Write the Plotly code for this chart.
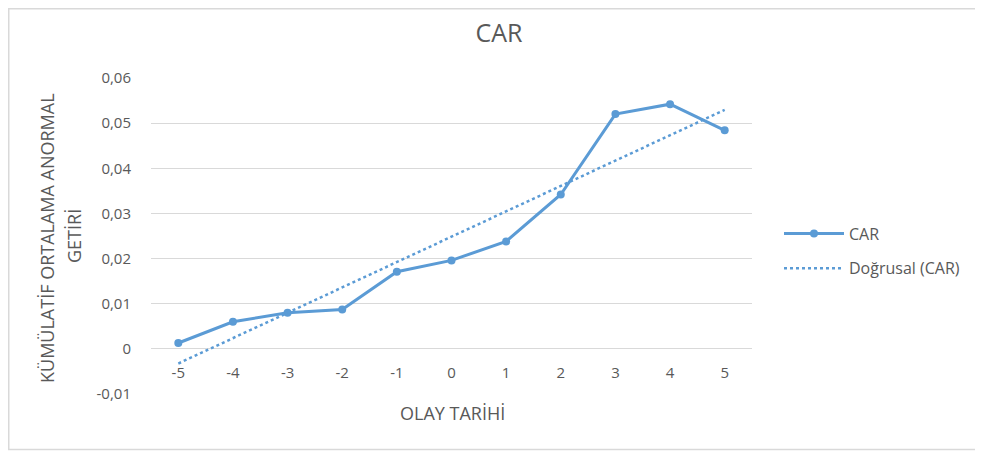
import numpy as np
import plotly.graph_objects as go

event_days = [-5, -4, -3, -2, -1, 0, 1, 2, 3, 4, 5]
car_values = [0.0013, 0.0060, 0.0080, 0.0087, 0.0171, 0.0196, 0.0238, 0.0342, 0.0520, 0.0542, 0.0484]
y_tick_vals = [-0.01, 0, 0.01, 0.02, 0.03, 0.04, 0.05, 0.06]
y_tick_text = ["-0,01", "0", "0,01", "0,02", "0,03", "0,04", "0,05", "0,06"]
y_title_lines = ["KÜMÜLATİF ORTALAMA ANORMAL", "GETİRİ"]

# linear trendline (Excel "Doğrusal") computed from the series
slope, intercept = np.polyfit(event_days, car_values, 1)
trend = [slope * x + intercept for x in event_days]

blue = "#5B9BD5"
gray = "#595959"
font = "Open Sans"

fig = go.Figure()
fig.add_trace(go.Scatter(
    x=event_days, y=car_values, mode="lines+markers", name="CAR",
    line=dict(color=blue, width=3), marker=dict(color=blue, size=8),
    legendgroup="a",
))
fig.add_trace(go.Scatter(
    x=event_days, y=trend, mode="lines", name="Doğrusal (CAR)",
    line=dict(color=blue, width=2.5, dash="dot"),
    legendgroup="b",
))

W, H = 983, 452
OFF = 8  # page body margin offset of the figure on screen
# plot area in screen pixels
SL, SR, ST, SB = 151, 752, 78, 394
L, T = SL - OFF, ST - OFF
R, B = W - (SR - OFF), H - (SB - OFF)
pw, ph = SR - SL, SB - ST

def px_x(x):
    return (x - SL) / pw

def px_y(y):
    return (SB - y) / ph

annotations = [
    dict(text="OLAY TARİHİ", xref="paper", yref="paper",
         x=px_x(452), y=px_y(413), xanchor="center", yanchor="middle",
         showarrow=False, font=dict(size=18, color=gray)),
]
for line_text, cx, cy in zip(y_title_lines, [47, 74], [238, 236]):
    annotations.append(dict(
        text=line_text, xref="paper", yref="paper",
        x=px_x(cx - OFF + 8), y=px_y(cy), xanchor="center", yanchor="middle",
        textangle=-90, showarrow=False, font=dict(size=18, color=gray)))

fig.update_layout(
    width=W, height=H,
    margin=dict(l=L, r=R, t=T, b=B, autoexpand=False),
    paper_bgcolor="white", plot_bgcolor="white",
    font=dict(family=font, color=gray, size=15),
    title=dict(text="CAR", x=(499 - OFF) / W, xanchor="center",
               y=1 - (33 - OFF) / H, yanchor="middle",
               font=dict(size=25, color=gray, family=font)),
    xaxis=dict(
        range=[-5.5, 5.5], tickvals=event_days, ticktext=[str(v) for v in event_days],
        showgrid=False, zeroline=False, showline=False, automargin=False,
        anchor="free", position=1 / 7, ticks="", ticklabelstandoff=13,
        tickfont=dict(size=15, color=gray),
    ),
    yaxis=dict(
        range=[-0.01, 0.06], tickvals=y_tick_vals, ticktext=y_tick_text,
        showgrid=True, gridcolor="#D9D9D9", gridwidth=1, automargin=False,
        zeroline=False, showline=False, ticks="", ticklabelstandoff=19,
        tickfont=dict(size=15, color=gray),
    ),
    legend=dict(
        x=px_x(779), xanchor="left", y=px_y(251), yanchor="middle",
        font=dict(size=16, color=gray), tracegroupgap=11, itemwidth=60,
        bgcolor="rgba(0,0,0,0)",
    ),
    annotations=annotations,
    shapes=[dict(
        type="rect", xref="paper", yref="paper",
        x0=px_x(OFF + 0.75), x1=px_x(1000), y0=px_y(449.5), y1=px_y(OFF + 0.75),
        line=dict(color="#D9D9D9", width=1.5), fillcolor="rgba(0,0,0,0)",
    )],
)

fig.write_html("out.html")
